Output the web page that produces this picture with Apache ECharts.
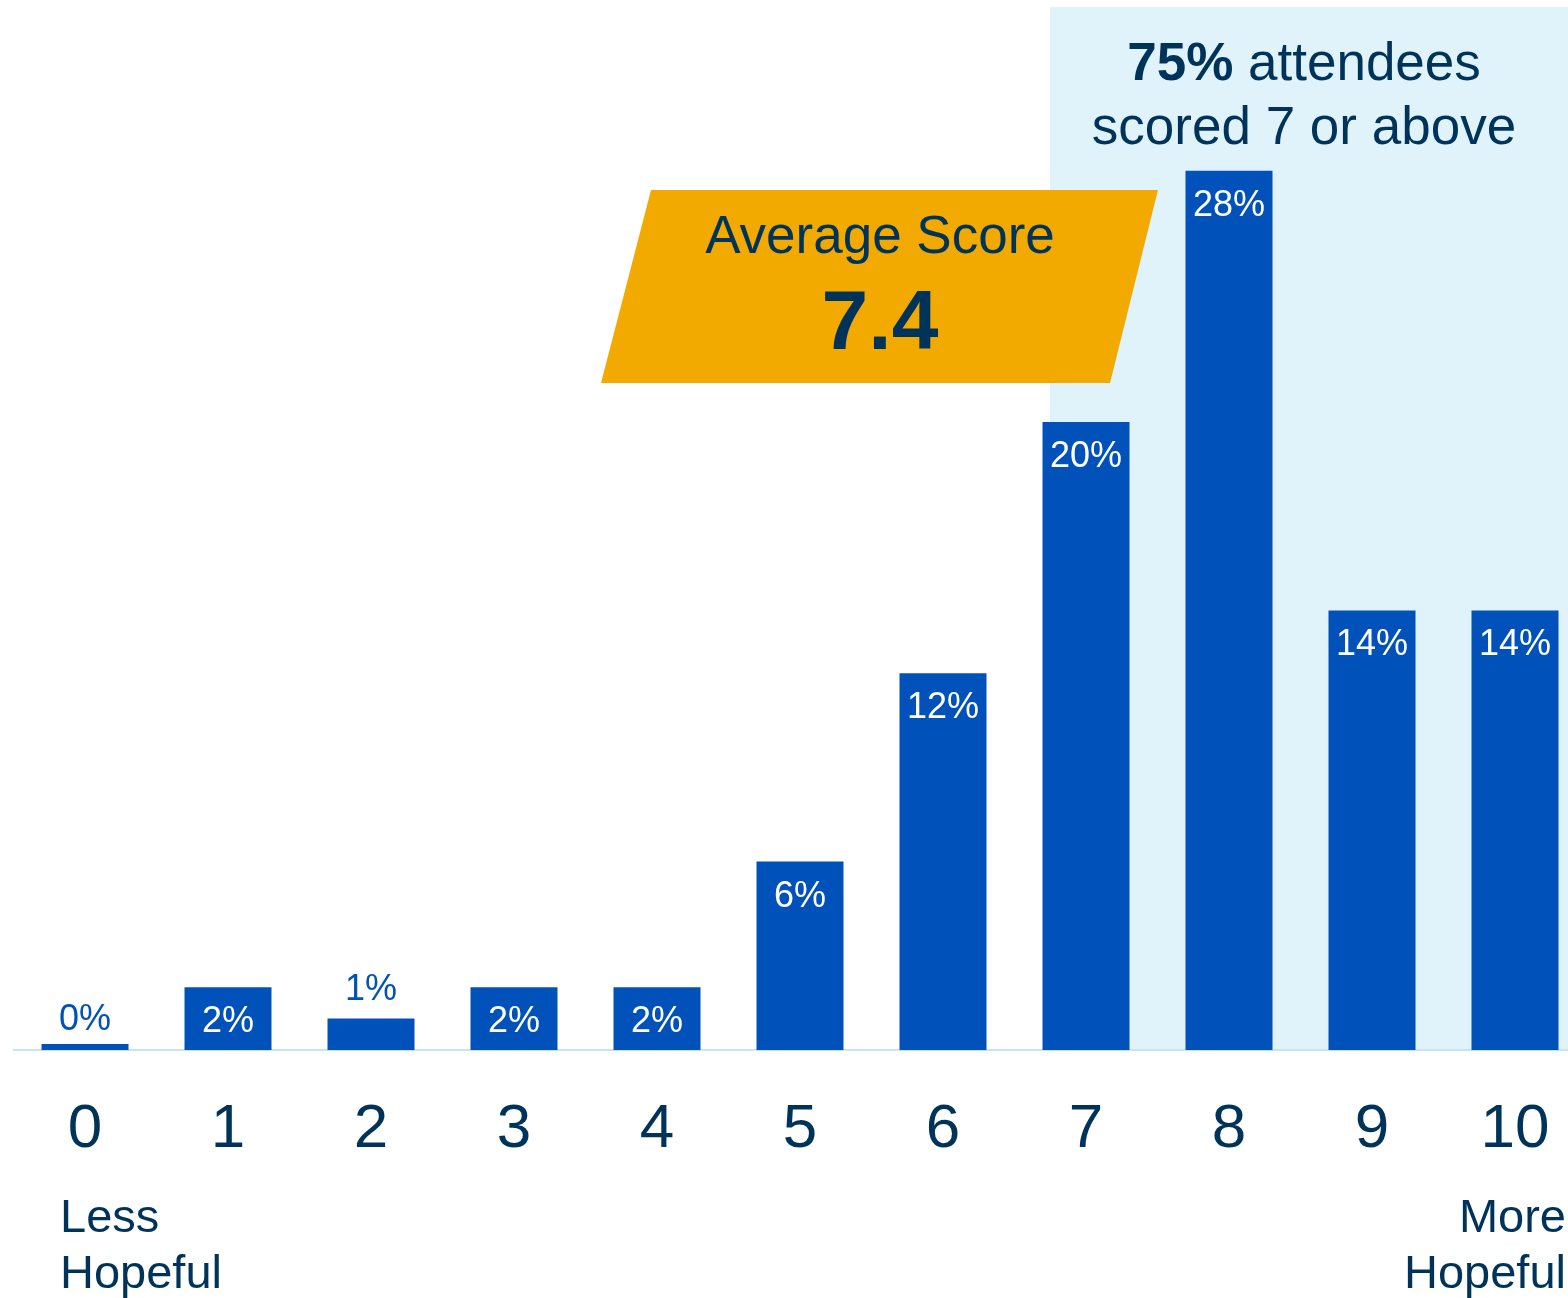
<!DOCTYPE html>
<html>
<head>
<meta charset="utf-8">
<script src="https://cdn.jsdelivr.net/npm/echarts@6/dist/echarts.min.js"></script>
<style>
html,body{margin:0;padding:0;background:#fff;}
#chart{width:1568px;height:1298px;}
</style>
</head>
<body>
<div id="chart"></div>
<script>
const categories = ['0','1','2','3','4','5','6','7','8','9','10'];
const shares = [0, 2, 1, 2, 2, 6, 12, 20, 28, 14, 14];
const averageScore = '7.4';
const highShare = '75%';

const FONT = '"Liberation Sans", Arial, sans-serif';
const NAVY = '#003359';
const BLUE = '#0052BA';

const chart = echarts.init(document.getElementById('chart'));

const barData = shares.map(v => {
  if (v < 2) {
    return { value: v, label: { position: 'top', distance: v === 0 ? 6 : 11, color: BLUE } };
  }
  return { value: v };
});

chart.setOption({
  animation: false,
  backgroundColor: '#ffffff',
  grid: { left: 13.5, top: 108, right: -18.5, height: 942, containLabel: false, outerBoundsMode: 'none' },
  xAxis: {
    type: 'category',
    data: categories,
    axisLine: { show: true, lineStyle: { color: '#C6E4F7', width: 2 } },
    axisTick: { show: false },
    axisLabel: { color: NAVY, fontSize: 62, fontFamily: FONT, margin: 49, interval: 0 }
  },
  yAxis: {
    type: 'value', min: 0, max: 30,
    show: false,
    splitLine: { show: false }
  },
  graphic: [
    { type: 'rect', z: -10, silent: true,
      shape: { x: 1050, y: 7, width: 520, height: 1043 },
      style: { fill: '#E0F3FB' } },
    { type: 'polygon', z: 100,
      shape: { points: [[651, 190], [1158, 190], [1110, 383], [601, 383]] },
      style: { fill: '#F2AA00' } },
    { type: 'text', z: 101,
      style: { x: 880, y: 238, text: 'Average Score', align: 'center', verticalAlign: 'middle',
        fontSize: 53, fontFamily: FONT, fill: NAVY } },
    { type: 'text', z: 101,
      style: { x: 880, y: 326, text: averageScore, align: 'center', verticalAlign: 'middle',
        fontSize: 84, fontWeight: 'bold', fontFamily: FONT, fill: NAVY } },
    { type: 'text', z: 101,
      style: { x: 1304, y: 97, text: '{b|' + highShare + '} attendees\nscored 7 or above',
        align: 'center', verticalAlign: 'middle', fontSize: 53, lineHeight: 64,
        fontFamily: FONT, fill: NAVY,
        rich: { b: { fontWeight: 'bold', fontSize: 53, lineHeight: 64, fontFamily: FONT, fill: NAVY } } } },
    { type: 'text', z: 101,
      style: { x: 60, y: 1247, text: 'Less\nHopeful', align: 'left', verticalAlign: 'middle',
        fontSize: 47, lineHeight: 56, fontFamily: FONT, fill: NAVY } },
    { type: 'text', z: 101,
      style: { x: 1566, y: 1247, text: 'More\nHopeful', align: 'right', verticalAlign: 'middle',
        fontSize: 47, lineHeight: 56, fontFamily: FONT, fill: NAVY } }
  ],
  series: [{
    type: 'bar',
    data: barData,
    barWidth: 87,
    barMinHeight: 6,
    itemStyle: { color: BLUE },
    label: {
      show: true,
      position: 'insideTop',
      distance: 17,
      formatter: '{c}%',
      color: '#ffffff',
      fontSize: 36,
      fontFamily: FONT
    }
  }]
});
</script>
</body>
</html>
